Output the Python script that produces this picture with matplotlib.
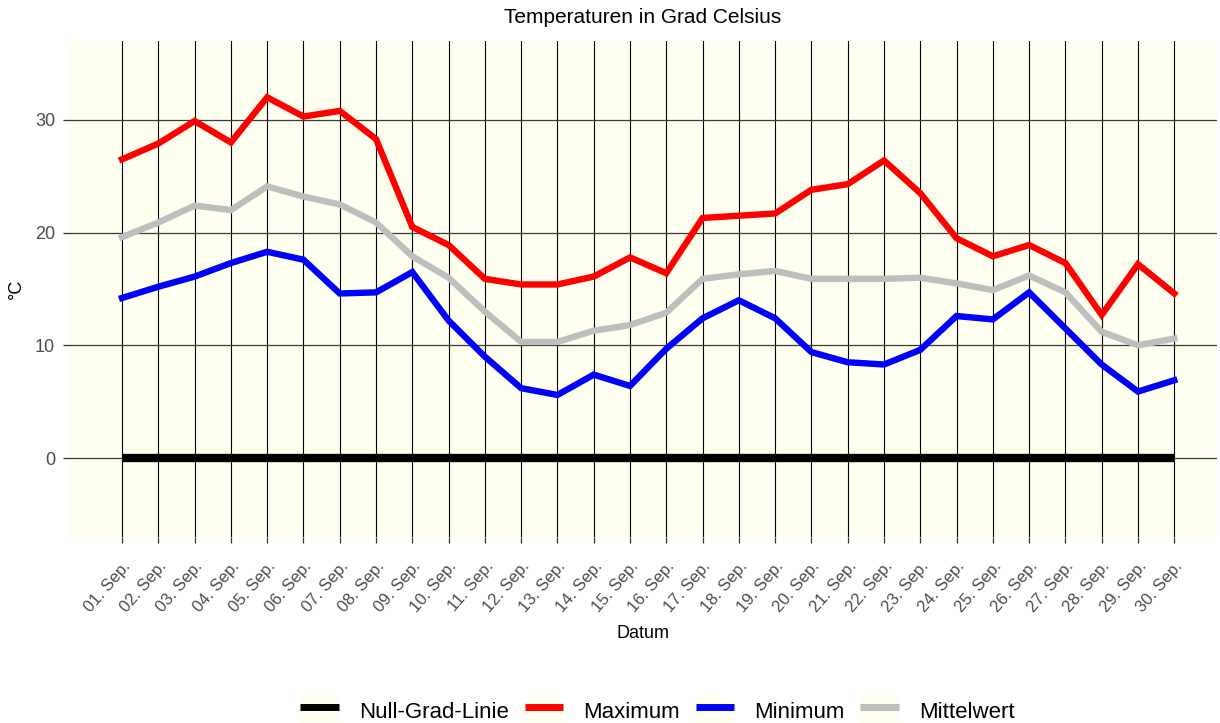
import matplotlib

matplotlib.use("Agg")
import matplotlib.pyplot as plt
from matplotlib.legend_handler import HandlerTuple
from matplotlib.lines import Line2D
from matplotlib.patches import Patch

# daily temperatures, September (°C)
days = list(range(1, 31))
day_labels = [f"{d:02d}. Sep." for d in days]
t_max = [26.5, 27.9, 29.9, 28.0, 32.0, 30.3, 30.8, 28.3, 20.5, 18.9,
         15.9, 15.4, 15.4, 16.1, 17.8, 16.4, 21.3, 21.5, 21.7, 23.8,
         24.3, 26.4, 23.5, 19.5, 17.9, 18.9, 17.3, 12.7, 17.2, 14.6]
t_mean = [19.6, 20.9, 22.4, 22.0, 24.1, 23.2, 22.5, 20.9, 17.9, 16.0,
          13.0, 10.3, 10.3, 11.3, 11.8, 12.9, 15.9, 16.3, 16.6, 15.9,
          15.9, 15.9, 16.0, 15.5, 14.9, 16.2, 14.7, 11.2, 10.0, 10.6]
t_min = [14.2, 15.2, 16.1, 17.3, 18.3, 17.6, 14.6, 14.7, 16.5, 12.2,
         9.0, 6.2, 5.6, 7.4, 6.4, 9.7, 12.4, 14.0, 12.4, 9.4,
         8.5, 8.3, 9.6, 12.6, 12.3, 14.7, 11.5, 8.3, 5.9, 6.9]
zero_line = [0] * len(days)

IVORY = "#FFFFF0"
TXT = "#4D4D4D"

plt.rcParams["font.family"] = ["Liberation Sans", "DejaVu Sans"]

fig = plt.figure(figsize=(12.2, 7.23), dpi=100)
ax = fig.add_axes([0.0566, 0.2573, 0.9410, 0.6860])
ax.set_facecolor(IVORY)
for s in ax.spines.values():
    s.set_visible(False)

ax.plot(days, zero_line, color="black", lw=6, solid_capstyle="butt", zorder=3)
ax.plot(days, t_max, color="#FF0000", lw=4.6, solid_joinstyle="miter", zorder=3)
ax.plot(days, t_min, color="#0000FF", lw=4.6, solid_joinstyle="miter", zorder=3)
ax.plot(days, t_mean, color="#BEBEBE", lw=4.6, solid_joinstyle="miter", zorder=3)

ax.set_xlim(-0.46, 31.18)
ax.set_ylim(-7.0, 37.0)
ax.set_xticks(days)
ax.set_xticklabels(day_labels, rotation=49, ha="right", va="top",
                   rotation_mode="anchor", fontsize=12, color=TXT)
ax.set_yticks([0, 10, 20, 30])
ax.set_yticklabels(["0", "10", "20", "30"], fontsize=13, color=TXT)
ax.tick_params(axis="both", length=4.5, width=0.9, color="#333333")
ax.tick_params(axis="x", pad=11)
ax.tick_params(axis="y", pad=5.5)

ax.grid(axis="x", color="black", lw=0.8)
ax.grid(axis="y", color="#3a3a3a", lw=0.9)
ax.set_axisbelow(True)

ax.set_title("Temperaturen in Grad Celsius", fontsize=15, pad=13)
ax.set_xlabel("Datum", fontsize=13, labelpad=7)
ax.set_ylabel("°C", fontsize=13, labelpad=7)

names = ["Null-Grad-Linie", "Maximum", "Minimum", "Mittelwert"]
colors = ["black", "#FF0000", "#0000FF", "#BEBEBE"]
handles = [(Patch(facecolor=IVORY, edgecolor="none"),
            Line2D([], [], color=c, lw=5, solid_capstyle="butt"))
           for c in colors]
fig.legend(handles, names, loc="lower center", bbox_to_anchor=(0.539, -0.025),
           ncol=4, frameon=False, handler_map={tuple: HandlerTuple(ndivide=1, pad=0)},
           prop={"size": 16},
           handlelength=1.75, handleheight=1.7, handletextpad=0.9,
           columnspacing=0.7, borderpad=0.2)

fig.savefig("out.png", dpi=100)
